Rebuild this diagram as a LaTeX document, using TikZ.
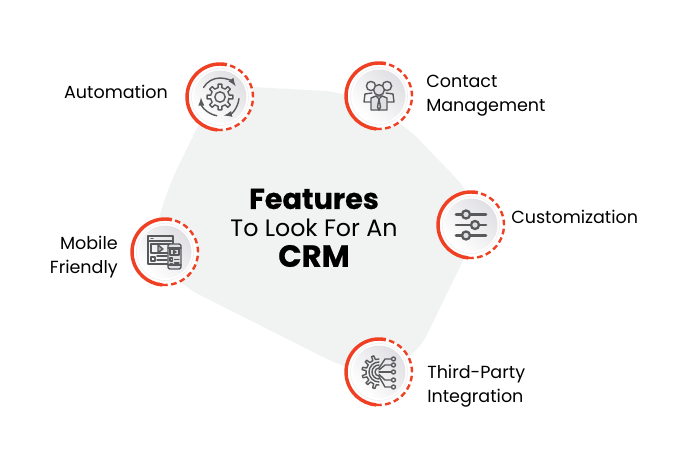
\documentclass[tikz,border=0pt]{standalone}
\usepackage{fontspec}
\setmainfont{Poppins}
\newfontfamily\heavyfont{Poppins}[UprightFont=*-Bold,FakeBold=0.6]
\definecolor{blobgray}{HTML}{F1F2F2}
\definecolor{crmred}{HTML}{EF4023}
\definecolor{icongray}{HTML}{58595B}
\definecolor{discgray}{HTML}{E0E0E4}
\tikzset{
  label text/.style={font=\fontsize{13.15pt}{18pt}\selectfont\mdseries,text=black,inner sep=0pt},
  icon/.style={draw=icongray,line width=1.05pt,line cap=round,line join=round},
  iconthick/.style={draw=icongray,line width=2pt,line cap=round},
  knob/.style={draw=icongray,line width=1.7pt,fill=discgray},
}
\newcommand{\badge}[1]{%
  \fill[white] (#1) circle (33);
  \draw[crmred,line width=2.6pt] ([shift={(78:33)}]#1) arc (78:265:33);
  \draw[crmred,line width=1.8pt,dash pattern=on 4.2pt off 2.6pt] ([shift={(-95:33)}]#1) arc (-95:78:33);
  \fill[white!95!black] (#1) circle (29);
  \fill[white] (#1) circle (28);
  \shade[left color=discgray,right color=white,shading angle=-45] (#1) circle (26.5);
}
\begin{document}
\begin{tikzpicture}[x=0.75pt,y=0.75pt]
\useasboundingbox (0,0) rectangle (685,468);
\fill[white] (0,0) rectangle (685,468);
\fill[blobgray,rounded corners=16pt] (232,382) -- (345,376) -- (405,343) -- (473,272) -- (473,228) -- (417,113) -- (375,94) -- (345,100) -- (180,183) -- (150,222) -- (170,285) -- (208,362) -- cycle;

\coordinate (auto) at (220,371);
\coordinate (cont) at (379,372);
\coordinate (cust) at (471,243);
\coordinate (mobi) at (165,216);
\coordinate (thrd) at (379,96);
\badge{auto}\badge{cont}\badge{cust}\badge{mobi}\badge{thrd}

% Automation icon
\begin{scope}[shift={(auto)}]
  \draw[icon,fill=none] (0,0) circle (5.2);
  \draw[icon] (-9:9) \foreach \a in {0,45,...,315} { -- (\a-11:9.5) -- (\a-8:13) -- (\a+8:13) -- (\a+11:9.5)} -- cycle;
  \draw[icon,-latex] (150:19) arc (150:35:19);
  \draw[icon,-latex] (-100:19) arc (-100:-178:19) ;
  \draw[icon,-latex] (-5:19) arc (-5:-78:19);
\end{scope}

% Contact icon
\begin{scope}[shift={(cont)}]
  \draw[icon] (-8,10) circle (4.6);
  \draw[icon] (8,10) circle (4.6);
  \draw[icon] (-7,3) -- (-14,2) -- (-15,-6) -- (-8,-6);
  \draw[icon] (7,3) -- (14,2) -- (15,-6) -- (8,-6);
  \draw[icon,fill=discgray] (-8,-14) -- (-8,-2) -- (-3,0) -- (3,0) -- (8,-2) -- (8,-14) -- cycle;
  \draw[icon,fill=discgray] (0,6) circle (5.4);
  \draw[icon] (-3,0) -- (0,-3) -- (3,0);
  \draw[icon] (0,-3) -- (-1.5,-11) -- (0,-14) -- (1.5,-11) -- cycle;
\end{scope}

% Customization icon
\begin{scope}[shift={(cust)}]
  \foreach \ly/\kx in {10.5/-5,0/4,-10.5/-5}{
    \draw[iconthick] (-15,\ly) -- (15,\ly);
    \draw[knob] (\kx,\ly) circle (4);
  }
\end{scope}

% Mobile icon
\begin{scope}[shift={(mobi)}]
  \draw[icon] (-17,-12) rectangle (8,16);
  \draw[icon] (-17,11) -- (8,11);
  \draw[icon] (-14,13.5) -- (-12,13.5);
  \draw[icon] (-14,-1) rectangle (6,8);
  \draw[icon,fill=icongray!50] (-7,7) -- (-2,3) -- (-7,-0.5) -- cycle;
  \draw[icon] (-14,-9) rectangle (-10,-5);
  \draw[icon] (-8,-4) -- (2,-4);
  \draw[icon] (-8,-8) -- (2,-8);
  \draw[icon,fill=discgray,rounded corners=1.5pt] (3,-17) rectangle (16,8);
  \draw[icon] (3,4) -- (16,4);
  \draw[icon] (3,-13) -- (16,-13);
  \draw[icon] (5,-3) rectangle (14,3);
  \draw[icon,fill=icongray] (8.5,1.5) -- (11,0) -- (8.5,-1.5) -- cycle;
  \draw[icon] (5,-9) rectangle (7.5,-6);
  \draw[icon] (9.5,-7.5) -- (14,-7.5);
  \draw[icon] (5,-12) -- (7.5,-12);
  \draw[icon] (9.5,-11) -- (14,-11);
\end{scope}

% Third-party icon
\begin{scope}[shift={(thrd)}]
  \draw[icon] (0,13) \foreach \a in {112,140,168,196,224,252} { -- (\a-6:13) -- (\a-4:17) -- (\a+4:17) -- (\a+6:13)} -- (0,-13);
  \draw[icon] (0,7) arc (90:270:7);
  \draw[icon] (0,10) arc (90:270:10);
  \draw[icon] (0,4) arc (90:270:4);
  \foreach \dy/\my in {13/13,7/7,0/0,-8/-8,-15/-15}{
    \draw[icon] (0,0.3*\dy) -- (6,\my) -- (12.5,\my);
    \draw[icon] (14.5,\my) circle (2);
  }
\end{scope}

% Labels
\node[label text] (lauto) at (116,376) {Automation};
\node[label text,align=left,anchor=west,text width=130pt] (lcont) at (426,372) {Contact\\Management};
\node[label text,anchor=west] (lcust) at (511,251) {Customization};
\node[label text,align=right,anchor=east,text width=80pt] (lmobi) at (118,211) {Mobile\\Friendly};
\node[label text,align=left,anchor=west,text width=130pt] (lthrd) at (427,82) {Third-Party\\Integration};

\node[inner sep=0pt,font=\fontsize{21.5pt}{26pt}\selectfont\heavyfont] (t1) at (314,269) {Features};
\node[inner sep=0pt,font=\fontsize{17.8pt}{20pt}\selectfont\mdseries] (t2) at (314,240) {To Look For An};
\node[inner sep=0pt,font=\fontsize{23pt}{26pt}\selectfont\heavyfont] (t3) at (314,212) {CRM};
\end{tikzpicture}
\end{document}
